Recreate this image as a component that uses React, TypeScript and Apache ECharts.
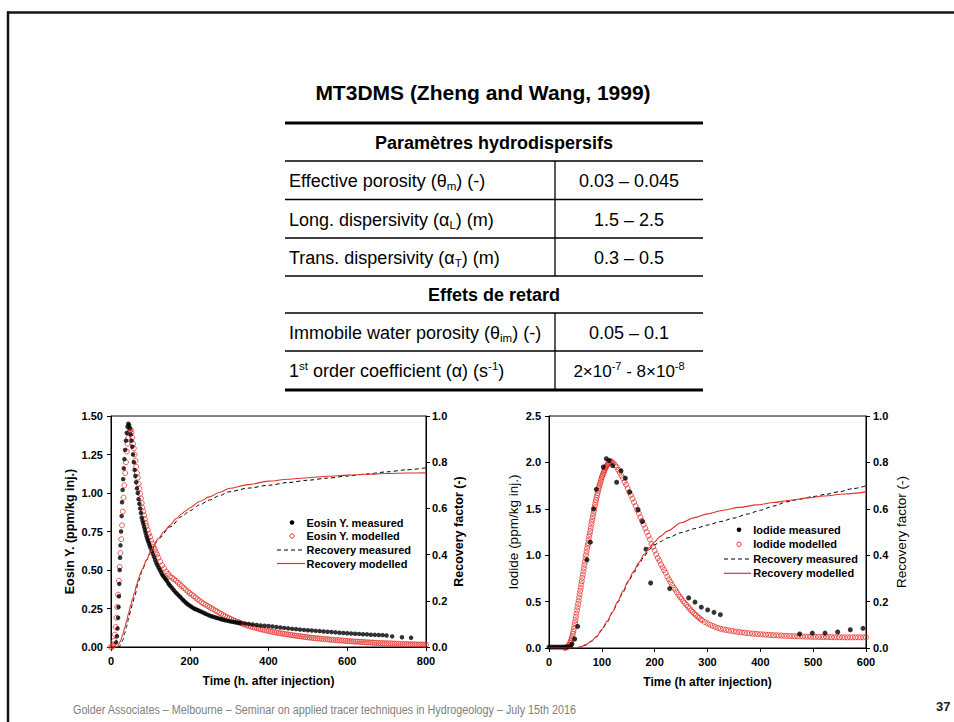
import { useEffect, useRef } from 'react';
import * as echarts from 'echarts';

const FONT = '"Liberation Sans", Arial, Helvetica, sans-serif';
const RED = '#e4322b';

// ---- Eosin Y tracer test (time in h, concentration in ppm/kg injected) ----
const eosinMeasured: [number, number][] = [
  [13, 0.03], [15, 0.07], [16.5, 0.12], [18, 0.19], [19, 0.26], [20, 0.33], [21, 0.41], [22, 0.5],
  [23, 0.58], [24, 0.66], [25.5, 0.75], [27, 0.85], [28, 0.94], [29.5, 1.02], [31, 1.09], [32.5, 1.16],
  [34, 1.22], [36, 1.28], [38, 1.34], [40, 1.39], [42, 1.43], [44, 1.45], [46, 1.44], [48, 1.42],
  [50, 1.38], [52, 1.34], [54, 1.3], [56, 1.25], [58, 1.2], [60, 1.15], [62, 1.11], [64, 1.07],
  [66, 1.03], [68, 1.0], [70, 0.96], [72, 0.93], [74, 0.9], [76, 0.87], [78, 0.84], [80, 0.82],
  [82, 0.8], [84, 0.78], [86, 0.76], [88, 0.74], [90, 0.72], [92, 0.705], [94, 0.69], [96, 0.675],
  [98, 0.66], [100, 0.645], [103, 0.625], [106, 0.605], [109, 0.585], [112, 0.565], [115, 0.545],
  [118, 0.53], [121, 0.515], [124, 0.5], [127, 0.485], [130, 0.47], [133, 0.46], [136, 0.45],
  [139, 0.44], [142, 0.43], [145, 0.415], [148, 0.405], [151, 0.395], [155, 0.383], [159, 0.37],
  [163, 0.358], [167, 0.347], [171, 0.337], [175, 0.327], [179, 0.316], [183, 0.305], [187, 0.295],
  [191, 0.286], [195, 0.278], [199, 0.27], [203, 0.263], [207, 0.256], [211, 0.25], [215, 0.245],
  [220, 0.24], [225, 0.234], [230, 0.228], [235, 0.222], [240, 0.216], [245, 0.21], [250, 0.205],
  [255, 0.2], [260, 0.196], [265, 0.192], [270, 0.188], [275, 0.184], [280, 0.18], [285, 0.177],
  [290, 0.174], [295, 0.171], [300, 0.168], [305, 0.165], [310, 0.163], [315, 0.161], [320, 0.159],
  [325, 0.157], [330, 0.155], [340, 0.152], [350, 0.149], [360, 0.146], [370, 0.143], [380, 0.14],
  [390, 0.138], [400, 0.136], [410, 0.133], [420, 0.13], [430, 0.127], [440, 0.124], [450, 0.121],
  [460, 0.118], [470, 0.116], [480, 0.113], [490, 0.111], [500, 0.109], [510, 0.107], [520, 0.105],
  [530, 0.103], [540, 0.101], [550, 0.099], [560, 0.097], [570, 0.095], [580, 0.093], [590, 0.091],
  [600, 0.089], [610, 0.088], [620, 0.086], [630, 0.085], [640, 0.083], [650, 0.082], [660, 0.08],
  [670, 0.079], [680, 0.078], [690, 0.077], [700, 0.075], [714, 0.069], [739, 0.063], [762, 0.06],
];

const eosinModelled: [number, number][] = [
  [0, 0], [2, 0], [4, 0.005], [6, 0.015], [8, 0.04], [10, 0.08], [12, 0.13], [14, 0.19], [16, 0.26],
  [18, 0.34], [20, 0.43], [22, 0.52], [24, 0.61], [26, 0.7], [28, 0.79], [30, 0.88], [32, 0.97],
  [34, 1.05], [36, 1.13], [38, 1.2], [40, 1.27], [42, 1.32], [44, 1.36], [46, 1.39], [48, 1.41],
  [50, 1.41], [52, 1.39], [54, 1.36], [56, 1.32], [58, 1.29], [60, 1.25], [62, 1.21], [64, 1.17],
  [66, 1.13], [68, 1.1], [70, 1.06], [72, 1.03], [74, 0.995], [76, 0.965], [78, 0.935], [80, 0.905],
  [82, 0.88], [84, 0.855], [86, 0.83], [88, 0.805], [90, 0.785], [93, 0.76], [96, 0.735], [99, 0.715],
  [102, 0.69], [105, 0.67], [108, 0.65], [111, 0.635], [114, 0.615], [117, 0.6], [120, 0.58],
  [125, 0.555], [130, 0.53], [135, 0.51], [140, 0.49], [145, 0.475], [150, 0.46], [155, 0.45],
  [160, 0.44], [165, 0.43], [170, 0.418], [175, 0.407], [180, 0.395], [185, 0.383], [190, 0.372],
  [195, 0.36], [200, 0.35], [205, 0.34], [210, 0.33], [215, 0.32], [220, 0.31], [225, 0.3],
  [230, 0.29], [235, 0.282], [240, 0.275], [245, 0.267], [250, 0.26], [255, 0.252], [260, 0.245],
  [265, 0.237], [270, 0.23], [275, 0.222], [280, 0.215], [285, 0.207], [290, 0.2], [295, 0.193],
  [300, 0.187], [305, 0.181], [310, 0.175], [315, 0.17], [320, 0.165], [325, 0.16], [330, 0.155],
  [335, 0.15], [340, 0.145], [345, 0.141], [350, 0.137], [355, 0.133], [360, 0.13], [365, 0.126],
  [370, 0.123], [375, 0.119], [380, 0.116], [385, 0.113], [390, 0.11], [395, 0.107], [400, 0.104],
  [405, 0.101], [410, 0.099], [415, 0.096], [420, 0.094], [425, 0.091], [430, 0.089], [435, 0.087],
  [440, 0.085], [445, 0.083], [450, 0.081], [455, 0.079], [460, 0.077], [465, 0.075], [470, 0.073],
  [475, 0.071], [480, 0.07], [485, 0.068], [490, 0.066], [495, 0.064], [500, 0.063], [505, 0.061],
  [510, 0.06], [515, 0.058], [520, 0.057], [525, 0.056], [530, 0.055], [535, 0.053], [540, 0.052],
  [545, 0.051], [550, 0.05], [555, 0.048], [560, 0.047], [565, 0.046], [570, 0.045], [575, 0.044],
  [580, 0.043], [585, 0.042], [590, 0.041], [595, 0.04], [600, 0.039], [605, 0.038], [610, 0.037],
  [615, 0.036], [620, 0.035], [625, 0.035], [630, 0.034], [635, 0.033], [640, 0.032], [645, 0.031],
  [650, 0.03], [655, 0.03], [660, 0.029], [665, 0.028], [670, 0.027], [675, 0.027], [680, 0.026],
  [685, 0.025], [690, 0.025], [695, 0.024], [700, 0.024], [705, 0.023], [710, 0.023], [715, 0.022],
  [720, 0.022], [725, 0.021], [730, 0.021], [735, 0.02], [740, 0.02], [745, 0.019], [750, 0.019],
  [755, 0.018], [760, 0.018], [765, 0.017], [770, 0.017], [775, 0.016], [780, 0.016], [785, 0.016],
  [790, 0.016], [795, 0.015], [800, 0.015],
];

const eosinRecoveryMeasured: [number, number][] = [
  [0, 0], [20, 0], [25, 0.01], [30, 0.03], [35, 0.06], [40, 0.09], [45, 0.125], [50, 0.16],
  [55, 0.19], [60, 0.22], [70, 0.285], [80, 0.335], [90, 0.375], [100, 0.41], [120, 0.467],
  [150, 0.52], [180, 0.565], [200, 0.59], [225, 0.615], [250, 0.636], [275, 0.655], [300, 0.672],
  [350, 0.688], [400, 0.7], [450, 0.712], [500, 0.722], [550, 0.731], [600, 0.74], [650, 0.749],
  [700, 0.758], [750, 0.767], [800, 0.776],
];

const eosinRecoveryModelled: [number, number][] = [
  [0, 0], [15, 0], [18, 0.005], [20, 0.012], [25, 0.03], [30, 0.055], [35, 0.085], [40, 0.115],
  [45, 0.148], [50, 0.18], [55, 0.21], [60, 0.238], [65, 0.268], [70, 0.296], [75, 0.32], [80, 0.34],
  [90, 0.376], [100, 0.41], [110, 0.44], [120, 0.47], [135, 0.5], [150, 0.527], [165, 0.555],
  [180, 0.577], [190, 0.59], [200, 0.602], [225, 0.63], [250, 0.65], [275, 0.669], [300, 0.686],
  [350, 0.703], [400, 0.718], [450, 0.726], [500, 0.733], [550, 0.739], [600, 0.744], [650, 0.748],
  [700, 0.751], [750, 0.753], [800, 0.754],
];

// ---- Iodide tracer test ----
const iodideMeasured: [number, number][] = [
  [0, 0.01], [4, 0.01], [8, 0.01], [12, 0.01], [16, 0.01], [20, 0.01], [24, 0.01], [28, 0.01],
  [32, 0.01], [36, 0.012], [41, 0.018], [43.5, 0.043], [48.6, 0.097], [54.3, 0.233], [71.9, 0.95],
  [78.2, 1.14], [84.5, 1.5], [89.6, 1.71], [102.8, 1.95], [108.5, 2.04], [114.2, 2.02], [120.5, 1.966],
  [128, 1.786], [136.3, 1.91], [144.5, 1.83], [152.7, 1.68], [168.5, 1.49], [176.7, 1.363],
  [183.6, 1.065], [192.4, 0.7], [228.4, 0.64], [264.4, 0.54], [276.3, 0.495], [288.3, 0.44],
  [300.3, 0.41], [312.3, 0.384], [324.3, 0.359], [474.4, 0.151], [498.4, 0.161], [522.4, 0.161],
  [546.4, 0.172], [570.3, 0.197], [594.3, 0.212],
];

const iodideModelled: [number, number][] = [
  [30, 0], [32, 0.005], [34, 0.01], [36, 0.02], [38, 0.035], [40, 0.055], [41, 0.07], [42, 0.085],
  [43, 0.105], [44, 0.125], [45, 0.15], [46, 0.175], [47, 0.205], [48, 0.235], [49, 0.268], [50, 0.3],
  [51, 0.335], [52, 0.37], [53, 0.405], [54, 0.44], [55, 0.475], [56, 0.51], [57, 0.545], [58, 0.58],
  [59, 0.615], [60, 0.65], [61, 0.685], [62, 0.72], [63, 0.755], [64, 0.79], [65, 0.825], [66, 0.86],
  [67, 0.895], [68, 0.93], [69, 0.965], [70, 1.0], [71, 1.035], [72, 1.07], [73, 1.1], [74, 1.13],
  [75, 1.165], [76, 1.2], [77, 1.23], [78, 1.26], [79, 1.295], [80, 1.33], [81, 1.36], [82, 1.39],
  [83, 1.42], [84, 1.45], [85, 1.48], [86, 1.51], [87, 1.54], [88, 1.57], [89, 1.595], [90, 1.62],
  [91, 1.645], [92, 1.67], [93, 1.695], [94, 1.72], [95, 1.74], [96, 1.76], [97, 1.78], [98, 1.8],
  [99, 1.82], [100, 1.84], [101, 1.855], [102, 1.87], [103, 1.885], [104, 1.9], [105, 1.915],
  [106, 1.93], [107, 1.94], [108, 1.95], [109, 1.96], [110, 1.97], [111, 1.98], [112, 1.99],
  [114, 2.0], [116, 2.01], [118, 2.01], [120, 2.0], [122, 1.99],
  [125, 1.97], [128, 1.95], [131, 1.92], [134, 1.89], [137, 1.86], [140, 1.83], [143, 1.79],
  [146, 1.76], [149, 1.72], [152, 1.68], [155, 1.65], [158, 1.61], [161, 1.57], [164, 1.53],
  [167, 1.49], [170, 1.45], [173, 1.41], [176, 1.37], [179, 1.33], [182, 1.29], [185, 1.25],
  [188, 1.21], [191, 1.17], [194, 1.12], [197, 1.09], [200, 1.05], [203, 1.01], [206, 0.97],
  [209, 0.94], [212, 0.9], [215, 0.87], [218, 0.84], [221, 0.81], [224, 0.77], [227, 0.74],
  [230, 0.71], [233, 0.68], [236, 0.65], [239, 0.63], [242, 0.6], [245, 0.575], [248, 0.55],
  [251, 0.53], [254, 0.505], [257, 0.485], [260, 0.465], [263, 0.445], [266, 0.425], [269, 0.405],
  [272, 0.39], [275, 0.37], [278, 0.355], [281, 0.34], [284, 0.325], [287, 0.31], [290, 0.3],
  [295, 0.28], [300, 0.265], [305, 0.25], [310, 0.238], [315, 0.226], [320, 0.215], [325, 0.207],
  [330, 0.2], [335, 0.195], [340, 0.19], [345, 0.185], [350, 0.18], [355, 0.176], [360, 0.172],
  [365, 0.168], [370, 0.165], [375, 0.161], [380, 0.158], [385, 0.155], [390, 0.153], [395, 0.15],
  [400, 0.148], [405, 0.146], [410, 0.144], [415, 0.142], [420, 0.14], [425, 0.138], [430, 0.137],
  [435, 0.135], [440, 0.134], [445, 0.132], [450, 0.131], [455, 0.129], [460, 0.128], [465, 0.127],
  [470, 0.126], [475, 0.125], [480, 0.124], [485, 0.123], [490, 0.122], [495, 0.121], [500, 0.12],
  [505, 0.12], [510, 0.119], [515, 0.119], [520, 0.118], [525, 0.118], [530, 0.117], [535, 0.117],
  [540, 0.116], [545, 0.116], [550, 0.116], [555, 0.115], [560, 0.115], [565, 0.115], [570, 0.115],
  [575, 0.115], [580, 0.115], [585, 0.115], [590, 0.115], [595, 0.115], [600, 0.115],
];

const iodideRecoveryMeasured: [number, number][] = [
  [0, 0], [50, 0], [60, 0.004], [70, 0.013], [80, 0.028], [90, 0.048], [100, 0.077], [110, 0.112],
  [120, 0.152], [130, 0.196], [140, 0.24], [150, 0.284], [160, 0.324], [170, 0.36], [180, 0.395],
  [190, 0.425], [200, 0.445], [210, 0.458], [225, 0.475], [250, 0.497], [275, 0.514], [300, 0.53],
  [325, 0.545], [350, 0.56], [375, 0.577], [400, 0.594], [425, 0.612], [450, 0.63], [475, 0.642],
  [500, 0.653], [525, 0.663], [550, 0.674], [575, 0.687], [600, 0.699],
];

const iodideRecoveryModelled: [number, number][] = [
  [0, 0], [50, 0], [60, 0.005], [70, 0.015], [80, 0.03], [90, 0.05], [100, 0.08], [110, 0.115],
  [120, 0.155], [130, 0.2], [140, 0.245], [150, 0.29], [160, 0.33], [170, 0.368], [180, 0.403],
  [190, 0.433], [200, 0.458], [210, 0.48], [225, 0.505], [250, 0.54], [275, 0.562], [300, 0.578],
  [330, 0.594], [360, 0.606], [394, 0.617], [425, 0.627], [457, 0.637], [490, 0.647], [520, 0.655],
  [560, 0.664], [600, 0.673],
];

// ---- Table of model parameters ----
const tableTitle = 'MT3DMS (Zheng and Wang, 1999)';
const hydroHeader = 'Paramètres hydrodispersifs';
const retardHeader = 'Effets de retard';
const hydroRows: [string, string][] = [
  ['{t|Effective porosity (θ}{sub|m}{t|) (-)}', '0.03 – 0.045'],
  ['{t|Long. dispersivity (α}{sub|L}{t|) (m)}', '1.5 – 2.5'],
  ['{t|Trans. dispersivity (α}{sub|T}{t|) (m)}', '0.3 – 0.5'],
];
const retardRows: [string, string][] = [
  ['{t|Immobile water porosity (θ}{sub|im}{t|) (-)}', '0.05 – 0.1'],
  ['{t|1}{sup|st}{t| order coefficient (α) (s}{sup|-1}{t|)}', '{v|2×10}{vs|-7}{v| - 8×10}{vs|-8}'],
];

const footerText =
  'Golder Associates – Melbourne – Seminar on applied tracer techniques in Hydrogeology – July 15th 2016';
const pageNumber = '37';

const legendEosin = ['Eosin Y. measured', 'Eosin Y. modelled', 'Recovery measured', 'Recovery modelled'];
const legendIodide = ['Iodide measured', 'Iodide modelled', 'Recovery measured', 'Recovery modelled'];

function measureWidth(text: string, font: string): number {
  const ctx = document.createElement('canvas').getContext('2d');
  if (!ctx) return text.length * 6;
  ctx.font = font;
  return ctx.measureText(text).width;
}

const richBase = (size: number, weight = 'normal') => ({
  fontFamily: FONT,
  fontSize: size,
  fontWeight: weight,
  fill: '#000',
});

function text(x: number, y: number, str: string, size: number, opts: any = {}) {
  return {
    type: 'text',
    x,
    y,
    silent: true,
    z: 10,
    style: {
      text: str,
      fill: opts.fill ?? '#000',
      fontFamily: FONT,
      fontSize: size,
      fontWeight: opts.weight ?? 'normal',
      textAlign: opts.align ?? 'left',
      textVerticalAlign: 'middle',
      ...(opts.rich ? { rich: opts.rich } : {}),
    },
    ...(opts.scaleX ? { scaleX: opts.scaleX } : {}),
  };
}

function hline(x1: number, x2: number, y: number, w: number, color = '#000', dash?: number[]) {
  return {
    type: 'line',
    silent: true,
    z: 10,
    shape: { x1, y1: y, x2, y2: y },
    style: { stroke: color, lineWidth: w, ...(dash ? { lineDash: dash } : {}) },
  };
}

function vline(x: number, y1: number, y2: number, w: number, color = '#000') {
  return {
    type: 'line',
    silent: true,
    z: 10,
    shape: { x1: x, y1, x2: x, y2 },
    style: { stroke: color, lineWidth: w },
  };
}

function buildTable(): any[] {
  const L = 285;
  const R = 703;
  const DIV = 555;
  const out: any[] = [];
  out.push(text(483, 92, tableTitle, 21, { weight: 'bold', align: 'center' }));
  const rules: [number, number][] = [
    [123, 3], [161, 1.3], [199.5, 1.3], [238, 1.3], [276, 1.3], [313, 1.3], [351, 1.3], [390, 3],
  ];
  rules.forEach(([y, w]) => out.push(hline(L, R, y, w)));
  out.push(vline(DIV, 161, 276, 1.3));
  out.push(vline(DIV, 313, 390, 1.3));
  out.push(text(494, 142.5, hydroHeader, 18, { weight: 'bold', align: 'center' }));
  out.push(text(494, 294.5, retardHeader, 18, { weight: 'bold', align: 'center' }));

  const rich = {
    t: { ...richBase(18), lineHeight: 22, verticalAlign: 'middle' },
    sub: { ...richBase(11.5), lineHeight: 12, verticalAlign: 'bottom' },
    sup: { ...richBase(11.5), lineHeight: 12, verticalAlign: 'top' },
    v: { ...richBase(17), lineHeight: 22, verticalAlign: 'middle' },
    vs: { ...richBase(11), lineHeight: 12, verticalAlign: 'top' },
  };
  const rowYs = [181, 219.5, 257.5];
  hydroRows.forEach(([l, r], i) => {
    out.push(text(289, rowYs[i], l, 18, { rich }));
    out.push(text(629, rowYs[i], r, 18, { align: 'center', rich }));
  });
  const rowYs2 = [333, 371];
  retardRows.forEach(([l, r], i) => {
    out.push(text(289, rowYs2[i], l, 18, { rich }));
    out.push(text(629, rowYs2[i], r, 18, { align: 'center', rich }));
  });
  return out;
}

function buildLegend(
  labels: string[],
  symX: number,
  lineX1: number,
  lineX2: number,
  textX: number,
  ys: number[],
): any[] {
  const out: any[] = [];
  out.push({
    type: 'circle',
    silent: true,
    z: 10,
    shape: { cx: symX, cy: ys[0], r: 2.3 },
    style: { fill: '#000' },
  });
  out.push({
    type: 'circle',
    silent: true,
    z: 10,
    shape: { cx: symX, cy: ys[1], r: 2.2 },
    style: { fill: 'none', stroke: RED, lineWidth: 1 },
  });
  out.push(hline(lineX1, lineX2, ys[2], 1, '#000', [4, 3]));
  out.push(hline(lineX1, lineX2, ys[3], 1.2, RED));
  labels.forEach((lab, i) => out.push(text(textX, ys[i], lab, 11, { weight: 'bold' })));
  return out;
}

function buildFrame(): any[] {
  const footerFont = `13.5px ${FONT}`;
  const w = measureWidth(footerText, footerFont);
  const scaleX = w > 0 ? 504 / w : 1;
  return [
    hline(7, 954, 12.5, 2.5, '#151515'),
    vline(8, 11.5, 722, 2.5, '#151515'),
    text(73, 710, footerText, 13.5, { fill: '#808080', scaleX }),
    text(936, 706, pageNumber, 13, { weight: 'bold', fill: '#222' }),
  ];
}

const axisBase = {
  axisLine: { show: true, onZero: false, lineStyle: { color: '#000', width: 1 } },
  axisTick: { show: true, inside: false, length: 4, lineStyle: { color: '#000', width: 1 } },
  splitLine: { show: false },
};
const labelStyle = (margin: number, digits: number) => ({
  color: '#000',
  fontFamily: FONT,
  fontWeight: 'bold',
  fontSize: 11,
  margin,
  formatter: (v: number) => v.toFixed(digits),
});
const nameStyle = (size: number, weight = 'bold') => ({
  color: '#000',
  fontFamily: FONT,
  fontWeight: weight,
  fontSize: size,
});

const modelledStyle = { color: 'rgba(255,255,255,0)', borderColor: RED, borderWidth: 1 };

function buildOption(): any {
  return {
    animation: false,
    backgroundColor: '#fff',
    textStyle: { fontFamily: FONT },
    grid: [
      { left: 111, top: 416, width: 315, height: 231, show: true, borderColor: '#000', borderWidth: 1 },
      { left: 549, top: 416, width: 317, height: 232, show: true, borderColor: '#000', borderWidth: 1 },
    ],
    xAxis: [
      {
        ...axisBase,
        type: 'value',
        gridIndex: 0,
        min: 0,
        max: 800,
        interval: 200,
        axisLabel: labelStyle(8, 0),
        name: 'Time (h. after injection)',
        nameLocation: 'middle',
        nameGap: 28,
        nameTextStyle: nameStyle(12),
      },
      {
        ...axisBase,
        type: 'value',
        gridIndex: 1,
        min: 0,
        max: 600,
        interval: 100,
        axisLabel: labelStyle(8, 0),
        name: 'Time (h after injection)',
        nameLocation: 'middle',
        nameGap: 28,
        nameTextStyle: nameStyle(12),
      },
    ],
    yAxis: [
      {
        ...axisBase,
        type: 'value',
        gridIndex: 0,
        min: 0,
        max: 1.5,
        interval: 0.25,
        axisLabel: labelStyle(8, 2),
        name: 'Eosin Y. (ppm/kg inj.)',
        nameLocation: 'middle',
        nameGap: 35,
        nameTextStyle: nameStyle(12.5),
      },
      {
        ...axisBase,
        type: 'value',
        gridIndex: 0,
        position: 'right',
        min: 0,
        max: 1,
        interval: 0.2,
        axisLabel: labelStyle(6, 1),
        name: 'Recovery factor (-)',
        nameLocation: 'middle',
        nameGap: 26,
        nameTextStyle: nameStyle(12.5),
      },
      {
        ...axisBase,
        type: 'value',
        gridIndex: 1,
        min: 0,
        max: 2.5,
        interval: 0.5,
        axisLabel: labelStyle(8, 1),
        name: 'Iodide (ppm/kg inj.)',
        nameLocation: 'middle',
        nameGap: 29,
        nameTextStyle: nameStyle(13.5, 'normal'),
      },
      {
        ...axisBase,
        type: 'value',
        gridIndex: 1,
        position: 'right',
        min: 0,
        max: 1,
        interval: 0.2,
        axisLabel: labelStyle(7, 1),
        name: 'Recovery factor (-)',
        nameLocation: 'middle',
        nameGap: 28,
        nameTextStyle: nameStyle(13.5, 'normal'),
      },
    ],
    series: [
      {
        name: 'Eosin Y. modelled',
        type: 'scatter',
        xAxisIndex: 0,
        yAxisIndex: 0,
        data: eosinModelled,
        symbol: 'circle',
        symbolSize: 5,
        itemStyle: modelledStyle,
        silent: true,
        z: 2,
      },
      {
        name: 'Eosin Y. measured',
        type: 'scatter',
        xAxisIndex: 0,
        yAxisIndex: 0,
        data: eosinMeasured,
        symbol: 'circle',
        symbolSize: 4.5,
        itemStyle: { color: '#000' },
        silent: true,
        z: 3,
      },
      {
        name: 'Recovery measured',
        type: 'line',
        xAxisIndex: 0,
        yAxisIndex: 1,
        data: eosinRecoveryMeasured,
        showSymbol: false,
        smooth: 0.3,
        smoothMonotone: 'x',
        lineStyle: { color: '#000', width: 1, type: [4, 3] },
        silent: true,
        z: 4,
      },
      {
        name: 'Recovery modelled',
        type: 'line',
        xAxisIndex: 0,
        yAxisIndex: 1,
        data: eosinRecoveryModelled,
        showSymbol: false,
        smooth: 0.3,
        smoothMonotone: 'x',
        lineStyle: { color: RED, width: 1.1 },
        silent: true,
        z: 4,
      },
      {
        name: 'Iodide modelled',
        type: 'scatter',
        xAxisIndex: 1,
        yAxisIndex: 2,
        data: iodideModelled,
        symbol: 'circle',
        symbolSize: 5,
        itemStyle: modelledStyle,
        silent: true,
        z: 2,
      },
      {
        name: 'Iodide measured',
        type: 'scatter',
        xAxisIndex: 1,
        yAxisIndex: 2,
        data: iodideMeasured,
        symbol: 'circle',
        symbolSize: 5,
        itemStyle: { color: '#000' },
        silent: true,
        z: 3,
      },
      {
        name: 'Recovery measured',
        type: 'line',
        xAxisIndex: 1,
        yAxisIndex: 3,
        data: iodideRecoveryMeasured,
        showSymbol: false,
        smooth: 0.3,
        smoothMonotone: 'x',
        lineStyle: { color: '#000', width: 1, type: [4, 3] },
        silent: true,
        z: 4,
      },
      {
        name: 'Recovery modelled',
        type: 'line',
        xAxisIndex: 1,
        yAxisIndex: 3,
        data: iodideRecoveryModelled,
        showSymbol: false,
        smooth: 0.3,
        smoothMonotone: 'x',
        lineStyle: { color: RED, width: 1.1 },
        silent: true,
        z: 4,
      },
    ],
    graphic: [
      ...buildFrame(),
      ...buildTable(),
      ...buildLegend(legendEosin, 292, 277, 305, 306.5, [522.5, 536, 550, 563.5]),
      ...buildLegend(legendIodide, 739, 724, 751, 753.3, [529.7, 544.3, 559, 573.3]),
    ],
  };
}

export default function App() {
  const ref = useRef<HTMLDivElement>(null);
  useEffect(() => {
    document.body.style.margin = '0';
    if (!ref.current) return;
    const chart = echarts.init(ref.current, undefined, { renderer: 'svg' });
    chart.setOption(buildOption());
    return () => {
      chart.dispose();
    };
  }, []);
  return <div ref={ref} style={{ width: 954, height: 722, background: '#fff' }} />;
}
